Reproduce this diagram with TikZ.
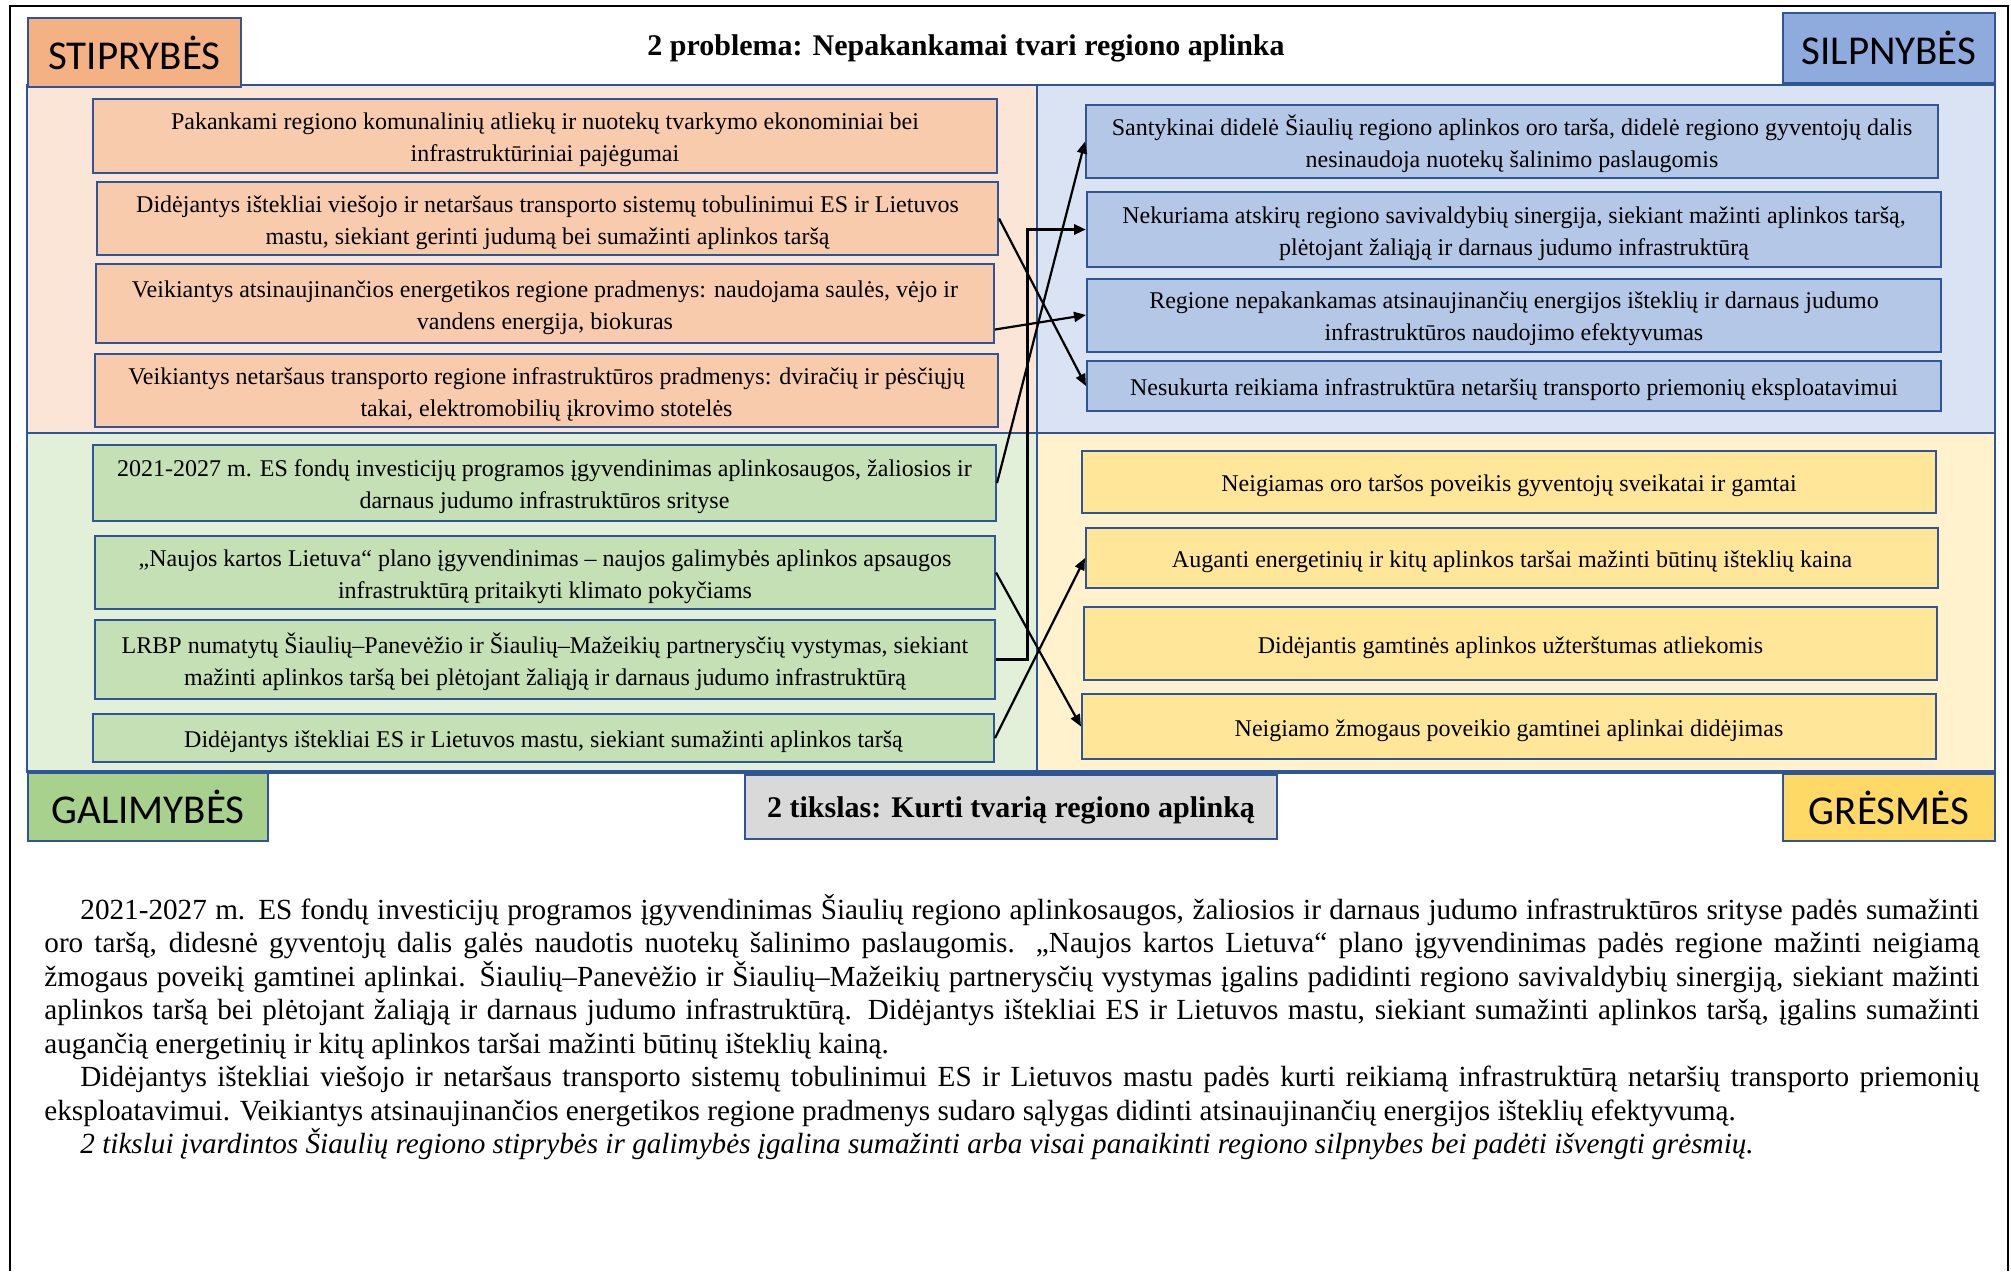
\documentclass[tikz,border=0pt]{standalone}
\usepackage{fontspec}
\setmainfont{Liberation Serif}
\newfontfamily\tagfont{Carlito}
\usetikzlibrary{arrows.meta}

\definecolor{bord}{HTML}{2F5597}
\definecolor{strbg}{HTML}{FBE5D6}
\definecolor{wkbg}{HTML}{DAE3F3}
\definecolor{opbg}{HTML}{E2F0D9}
\definecolor{thbg}{HTML}{FFF2CC}
\definecolor{strbox}{HTML}{F8CBAD}
\definecolor{wkbox}{HTML}{B4C7E7}
\definecolor{opbox}{HTML}{C5E0B4}
\definecolor{thbox}{HTML}{FFE699}
\definecolor{strtag}{HTML}{F4B183}
\definecolor{wktag}{HTML}{8FAADC}
\definecolor{optag}{HTML}{A9D18E}
\definecolor{thtag}{HTML}{FFD966}
\definecolor{goaltag}{HTML}{D9D9D9}

\tikzset{
    quad/.style = {draw = bord, line width = 0.8pt},
    item/.style = {shape = rectangle, draw = bord, line width = 1pt, inner sep = 2pt, align = center, font = \fontsize{12pt}{16pt}\selectfont,
        text height = 29pt, text depth = 3.5pt},
    oneline/.style = {text height = 13pt},
    tag/.style = {shape = rectangle, draw = bord, line width = 1.2pt, inner sep = 0pt, font = \tagfont\fontsize{20.5pt}{24pt}\selectfont},
    arr/.style = {-{Triangle[length = 6pt, width = 5pt]}, line width = 1.1pt}
}

\begin{document}
\begin{tikzpicture}[x = 0.5pt, y = -0.5pt]
            \useasboundingbox (0, 0) rectangle (2011, 1271);
            \fill [white] (0, 0) rectangle (2011, 1271);
            \draw [line width = 1pt] (10, 1271) -- (10, 6) -- (2008, 6) -- (2008, 1271);

            \filldraw [quad, fill = strbg] (27, 85) rectangle (1037, 433);
            \filldraw [quad, fill = wkbg] (1037, 85) rectangle (1995, 433);
            \filldraw [quad, fill = opbg] (27, 433) rectangle (1037, 772);
            \filldraw [quad, fill = thbg] (1037, 433) rectangle (1995, 772);
            \draw [draw = bord, line width = 1.6pt] (27, 772) -- (1995, 772);

            \node [tag, fill = strtag, minimum width = 106.5pt, minimum height = 34.5pt] (stip) at (134.5, 52.5) {STIPRYBĖS};
            \node [tag, fill = wktag, minimum width = 106pt, minimum height = 35pt] (silp) at (1889, 48) {SILPNYBĖS};
            \node [tag, fill = optag, minimum width = 120pt, minimum height = 34pt] (gal) at (148, 807) {GALIMYBĖS};
            \node [tag, fill = thtag, minimum width = 106pt, minimum height = 33.5pt] (gres) at (1889, 807.5) {GRĖSMĖS};
            \node [tag, fill = goaltag, minimum width = 266pt, minimum height = 32pt, text height = 14pt, font = \fontsize{15pt}{18pt}\bfseries\selectfont] (goal) at (1011, 807) {2 tikslas: Kurti tvarią regiono aplinką};
            \node [anchor = base, font = \fontsize{15pt}{18pt}\bfseries\selectfont] (title) at (966, 55) {2 problema: Nepakankamai tvari regiono aplinka};

            \node [item, fill = strbox, minimum width = 452pt, minimum height = 37pt] (s1) at (545, 136) {Pakankami regiono komunalinių atliekų ir nuotekų tvarkymo ekonominiai bei\\infrastruktūriniai pajėgumai};
            \node [item, fill = strbox, minimum width = 450.5pt, minimum height = 34.5pt] (s2) at (547.5, 218.5) {Didėjantys ištekliai viešojo ir netaršaus transporto sistemų tobulinimui ES ir Lietuvos\\mastu, siekiant gerinti judumą bei sumažinti aplinkos taršą};
            \node [item, fill = strbox, minimum width = 449pt, minimum height = 39.5pt] (s3) at (545, 303.5) {Veikiantys atsinaujinančios energetikos regione pradmenys: naudojama saulės, vėjo ir\\vandens energija, biokuras};
            \node [item, fill = strbox, minimum width = 451.5pt, minimum height = 34.5pt] (s4) at (546.5, 390.5) {Veikiantys netaršaus transporto regione infrastruktūros pradmenys: dviračių ir pėsčiųjų\\takai, elektromobilių įkrovimo stotelės};

            \node [item, fill = opbox, minimum width = 451.5pt, minimum height = 38pt] (o1) at (544.5, 483) {2021-2027 m. ES fondų investicijų programos įgyvendinimas aplinkosaugos, žaliosios ir\\darnaus judumo infrastruktūros srityse};
            \node [item, fill = opbox, minimum width = 450pt, minimum height = 36.5pt] (o2) at (545, 572.5) {„Naujos kartos Lietuva“ plano įgyvendinimas – naujos galimybės aplinkos apsaugos\\infrastruktūrą pritaikyti klimato pokyčiams};
            \node [item, fill = opbox, minimum width = 450pt, minimum height = 39.5pt] (o3) at (545, 659.5) {LRBP numatytų Šiaulių–Panevėžio ir Šiaulių–Mažeikių partnerysčių vystymas, siekiant\\mažinti aplinkos taršą bei plėtojant žaliąją ir darnaus judumo infrastruktūrą};
            \node [item, oneline, fill = opbox, minimum width = 450.5pt, minimum height = 24pt] (o4) at (543.5, 738) {Didėjantys ištekliai ES ir Lietuvos mastu, siekiant sumažinti aplinkos taršą};

            \node [item, fill = wkbox, minimum width = 426pt, minimum height = 36.5pt] (w1) at (1512, 141.5) {Santykinai didelė Šiaulių regiono aplinkos oro tarša, didelė regiono gyventojų dalis\\nesinaudoja nuotekų šalinimo paslaugomis};
            \node [item, fill = wkbox, minimum width = 427pt, minimum height = 37.5pt] (w2) at (1514, 229.5) {Nekuriama atskirų regiono savivaldybių sinergija, siekiant mažinti aplinkos taršą,\\plėtojant žaliąją ir darnaus judumo infrastruktūrą};
            \node [item, fill = wkbox, minimum width = 427pt, minimum height = 32pt] (w3) at (1514, 315) {Regione nepakankamas atsinaujinančių energijos išteklių ir darnaus judumo\\infrastruktūros naudojimo efektyvumas};
            \node [item, oneline, fill = wkbox, minimum width = 427pt, minimum height = 25pt] (w4) at (1514, 386) {Nesukurta reikiama infrastruktūra netaršių transporto priemonių eksploatavimui};

            \node [item, oneline, fill = thbox, minimum width = 427pt, minimum height = 31pt] (t1) at (1509, 482) {Neigiamas oro taršos poveikis gyventojų sveikatai ir gamtai};
            \node [item, oneline, fill = thbox, minimum width = 426pt, minimum height = 30pt] (t2) at (1512, 558) {Auganti energetinių ir kitų aplinkos taršai mažinti būtinų išteklių kaina};
            \node [item, oneline, fill = thbox, minimum width = 426.5pt, minimum height = 36.5pt] (t3) at (1510.5, 643.5) {Didėjantis gamtinės aplinkos užterštumas atliekomis};
            \node [item, oneline, fill = thbox, minimum width = 427pt, minimum height = 32.5pt] (t4) at (1509, 726.5) {Neigiamo žmogaus poveikio gamtinei aplinkai didėjimas};

            \draw [arr] (s2.east) -- (w4.west);
            \draw [arr] ([yshift = -13pt] s3.east) -- (w3.west);
            \draw [arr] (o1.east) -- (w1.west);
            \draw [arr, line width = 1.5pt] (o3.east) -- ++(31, 0) |- (w2.west);
            \draw [arr] (o2.east) -- (t4.west);
            \draw [arr] (o4.east) -- (t2.west);

            \node [anchor = base west, inner sep = 0pt, text width = 967.5pt, align = justify, font = \fontsize{14.6pt}{16.75pt}\selectfont] (txt) at (44, 919) {\hyphenpenalty=10000 \exhyphenpenalty=10000
            \hspace*{18pt}2021-2027 m. ES fondų investicijų programos įgyvendinimas Šiaulių regiono aplinkosaugos, žaliosios ir darnaus judumo infrastruktūros srityse padės sumažinti\linebreak
            oro taršą, didesnė gyventojų dalis galės naudotis nuotekų šalinimo paslaugomis. „Naujos kartos Lietuva“ plano įgyvendinimas padės regione mažinti neigiamą\linebreak
            žmogaus poveikį gamtinei aplinkai. Šiaulių–Panevėžio ir Šiaulių–Mažeikių partnerysčių vystymas įgalins padidinti regiono savivaldybių sinergiją, siekiant mažinti\linebreak
            aplinkos taršą bei plėtojant žaliąją ir darnaus judumo infrastruktūrą. Didėjantys ištekliai ES ir Lietuvos mastu, siekiant sumažinti aplinkos taršą, įgalins sumažinti\linebreak
            augančią energetinių ir kitų aplinkos taršai mažinti būtinų išteklių kainą.\par
            \hspace*{18pt}Didėjantys ištekliai viešojo ir netaršaus transporto sistemų tobulinimui ES ir Lietuvos mastu padės kurti reikiamą infrastruktūrą netaršių transporto priemonių\linebreak
            eksploatavimui. Veikiantys atsinaujinančios energetikos regione pradmenys sudaro sąlygas didinti atsinaujinančių energijos išteklių efektyvumą.\par
            \hspace*{18pt}\itshape 2 tikslui įvardintos Šiaulių regiono stiprybės ir galimybės įgalina sumažinti arba visai panaikinti regiono silpnybes bei padėti išvengti grėsmių.};
        \end{tikzpicture}
\end{document}
